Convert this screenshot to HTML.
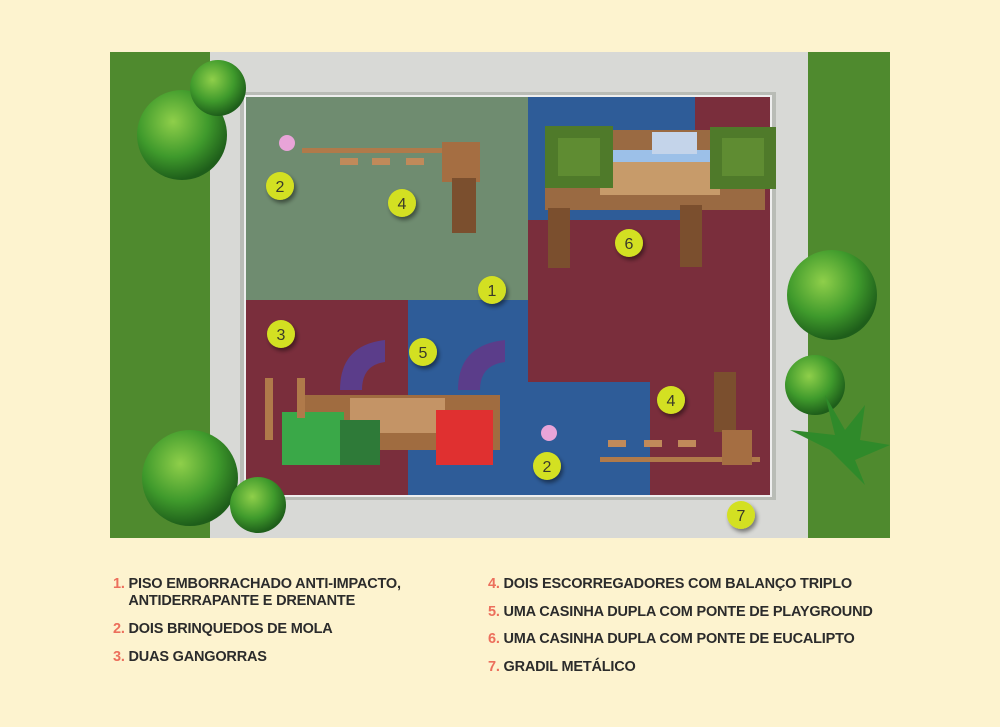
<!DOCTYPE html>
<html><head><meta charset="utf-8"><style>
body{margin:0;width:1000px;height:727px;background:#fdf3cf;overflow:hidden;font-family:"Liberation Sans",sans-serif}
.leg{position:absolute;font-weight:bold;font-size:14.5px;color:#2b2b2b;letter-spacing:-0.2px;line-height:17px}
.leg b{color:#ec6f5c}
</style></head><body>
<svg width="1000" height="727" style="position:absolute;left:0;top:0">
<defs>
<radialGradient id="tr" cx="40%" cy="35%" r="65%"><stop offset="0" stop-color="#8fcf4a"/><stop offset=".6" stop-color="#3f9a2c"/><stop offset="1" stop-color="#1e5e1a"/></radialGradient>
<filter id="sh"><feDropShadow dx="2" dy="3" stdDeviation="2" flood-opacity=".45"/></filter>
</defs>
<rect x="110" y="52" width="780" height="486" fill="#d8d9d6"/>
<rect x="110" y="52" width="100" height="486" fill="#4f8a2e"/>
<rect x="808" y="52" width="82" height="486" fill="#4f8a2e"/>
<rect x="240" y="92" width="536" height="408" fill="#b9bcb6"/>
<rect x="245" y="96" width="526" height="400" fill="#7a2e3c"/>
<rect x="245" y="96" width="283" height="204" fill="#6f8c70"/>
<rect x="528" y="96" width="167" height="124" fill="#2e5c98"/>
<rect x="408" y="300" width="120" height="196" fill="#2e5c98"/>
<rect x="528" y="382" width="122" height="114" fill="#2e5c98"/>
<rect x="245" y="96" width="526" height="400" fill="none" stroke="#eee" stroke-width="2"/>
<!-- trees -->
<circle cx="182" cy="135" r="45" fill="url(#tr)"/><circle cx="218" cy="88" r="28" fill="url(#tr)"/>
<circle cx="190" cy="478" r="48" fill="url(#tr)"/><circle cx="258" cy="505" r="28" fill="url(#tr)"/>
<circle cx="832" cy="295" r="45" fill="url(#tr)"/><circle cx="815" cy="385" r="30" fill="url(#tr)"/>
<path d="M830 450 l-40 -20 l45 5 l-10 -40 l20 35 l20 -25 l-5 35 l30 5 l-35 15 l10 25z" fill="#2f8a2a"/>
<!-- top-left slide -->
<rect x="302" y="148" width="140" height="5" fill="#b07a4a"/>
<rect x="340" y="158" width="18" height="7" fill="#c08a5a"/><rect x="372" y="158" width="18" height="7" fill="#c08a5a"/><rect x="406" y="158" width="18" height="7" fill="#c08a5a"/>
<rect x="442" y="142" width="38" height="40" fill="#a56e42"/>
<rect x="452" y="178" width="24" height="55" fill="#7b4f2e"/>
<circle cx="287" cy="143" r="8" fill="#e8a4d8"/>
<!-- house 6 -->
<rect x="545" y="130" width="220" height="80" fill="#9a6a42"/>
<rect x="600" y="150" width="120" height="45" fill="#c79b6a"/>
<rect x="608" y="150" width="105" height="12" fill="#9cc0e8"/>
<rect x="545" y="126" width="68" height="62" fill="#4f7a2a"/><rect x="558" y="138" width="42" height="38" fill="#5f8c32"/>
<rect x="710" y="127" width="66" height="62" fill="#4f7a2a"/><rect x="722" y="138" width="42" height="38" fill="#5f8c32"/>
<rect x="652" y="132" width="45" height="22" fill="#c4d4ea"/>
<rect x="548" y="208" width="22" height="60" fill="#7b4f2e"/><rect x="680" y="205" width="22" height="62" fill="#7b4f2e"/>
<!-- house 5 -->
<path d="M340 390 Q340 345 385 340 L385 362 Q362 365 362 390z" fill="#5b3d8a"/>
<path d="M458 390 Q458 345 505 340 L505 362 Q480 365 480 390z" fill="#5b3d8a"/>
<rect x="300" y="395" width="200" height="55" fill="#a06c40"/>
<rect x="350" y="398" width="95" height="35" fill="#c49466"/>
<rect x="282" y="412" width="62" height="53" fill="#3aa848"/>
<rect x="340" y="420" width="40" height="45" fill="#2e7a38"/>
<rect x="436" y="410" width="57" height="55" fill="#e03030"/>
<rect x="265" y="378" width="8" height="62" fill="#b07a4a"/><rect x="297" y="378" width="8" height="40" fill="#b07a4a"/>
<!-- bottom-right slide -->
<rect x="600" y="457" width="160" height="5" fill="#b07a4a"/>
<rect x="608" y="440" width="18" height="7" fill="#c08a5a"/><rect x="644" y="440" width="18" height="7" fill="#c08a5a"/><rect x="678" y="440" width="18" height="7" fill="#c08a5a"/>
<rect x="714" y="372" width="22" height="60" fill="#7b4f2e"/>
<rect x="722" y="430" width="30" height="35" fill="#a56e42"/>
<circle cx="549" cy="433" r="8" fill="#e8a4d8"/>
<g filter="url(#sh)" fill="#d3e021" font-family="Liberation Sans,sans-serif" font-size="17" text-anchor="middle">
<circle cx="280" cy="186" r="14"/><circle cx="402" cy="203" r="14"/><circle cx="629" cy="243" r="14"/>
<circle cx="492" cy="290" r="14"/><circle cx="281" cy="334" r="14"/><circle cx="423" cy="352" r="14"/>
<circle cx="671" cy="400" r="14"/><circle cx="547" cy="466" r="14"/><circle cx="741" cy="515" r="14"/>
</g>
<g fill="#3a3a2a" font-family="Liberation Sans,sans-serif" font-size="16" text-anchor="middle">
<text x="280" y="192">2</text><text x="402" y="209">4</text><text x="629" y="249">6</text><text x="492" y="296">1</text>
<text x="281" y="340">3</text><text x="423" y="358">5</text><text x="671" y="406">4</text><text x="547" y="472">2</text><text x="741" y="521">7</text>
</g>
</svg>
<div class="leg" style="left:113px;top:576px"><b>1.</b> PISO EMBORRACHADO ANTI-IMPACTO,<br>&nbsp;&nbsp;&nbsp;&nbsp;ANTIDERRAPANTE E DRENANTE</div>
<div class="leg" style="left:113px;top:621px"><b>2.</b> DOIS BRINQUEDOS DE MOLA</div>
<div class="leg" style="left:113px;top:649px"><b>3.</b> DUAS GANGORRAS</div>
<div class="leg" style="left:488px;top:576px"><b>4.</b> DOIS ESCORREGADORES COM BALANÇO TRIPLO</div>
<div class="leg" style="left:488px;top:604px"><b>5.</b> UMA CASINHA DUPLA COM PONTE DE PLAYGROUND</div>
<div class="leg" style="left:488px;top:631px"><b>6.</b> UMA CASINHA DUPLA COM PONTE DE EUCALIPTO</div>
<div class="leg" style="left:488px;top:659px"><b>7.</b> GRADIL METÁLICO</div>
</body></html>
